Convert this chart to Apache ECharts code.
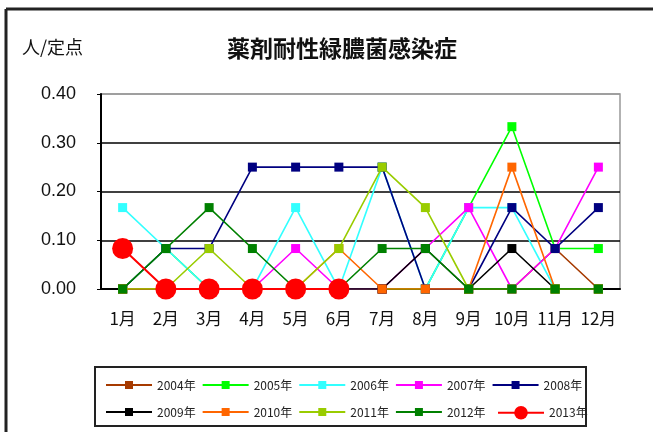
<!DOCTYPE html>
<html>
<head>
<meta charset="utf-8">
<script src="https://cdn.jsdelivr.net/npm/echarts@6/dist/echarts.min.js"></script>
<style>
html, body { margin: 0; padding: 0; background: #fff; }
#main { width: 653px; height: 432px; }
</style>
</head>
<body>
<div id="main"></div>
<script>
// 月別 定点当たり報告数
var months = ['1月','2月','3月','4月','5月','6月','7月','8月','9月','10月','11月','12月'];
var years = ['2004年','2005年','2006年','2007年','2008年','2009年','2010年','2011年','2012年','2013年'];
var yTicks = [0, 0.1, 0.2, 0.3, 0.4];

var y2004 = [0, 0, 0, 0, 0, 0, 0, 0, 0, 0, 0.083, 0];
var y2005 = [0, 0.083, 0, 0, 0, 0, 0, 0, 0.167, 0.333, 0.083, 0.083];
var y2006 = [0.167, 0.083, 0, 0, 0.167, 0, 0.25, 0, 0.167, 0.167, 0, 0];
var y2007 = [0, 0, 0, 0, 0.083, 0, 0, 0.083, 0.167, 0, 0.083, 0.25];
var y2008 = [0, 0.083, 0.083, 0.25, 0.25, 0.25, 0.25, 0, 0, 0.167, 0.083, 0.167];
var y2009 = [0, 0, 0, 0, 0, 0, 0, 0.083, 0, 0.083, 0, 0];
var y2010 = [0, 0, 0, 0, 0, 0.083, 0, 0, 0, 0.25, 0, 0];
var y2011 = [0, 0, 0.083, 0, 0, 0.083, 0.25, 0.167, 0, 0, 0, 0];
var y2012 = [0, 0.083, 0.167, 0.083, 0, 0, 0.083, 0.083, 0, 0, 0, 0];
var y2013 = [0.083, 0, 0, 0, 0, 0];

var allData = [y2004, y2005, y2006, y2007, y2008, y2009, y2010, y2011, y2012, y2013];
var colors = ['#a63a00', '#00ff00', '#33ffff', '#ff00ff', '#000080', '#000000', '#ff6600', '#99cc00', '#008000', '#ff0000'];

var chart = echarts.init(document.getElementById('main'));

var series = [];
for (var i = 0; i < years.length; i++) {
	var last = (i == years.length - 1);
	series.push({
		name: years[i],
		type: 'line',
		data: allData[i],
		symbol: last ? 'circle' : 'rect',
		symbolSize: last ? 21 : 9,
		lineStyle: { color: colors[i], width: last ? 2 : 1.6 },
		itemStyle: { color: colors[i] },
		animation: false,
		z: 2 + i
	});
}

var legendText = { fontFamily: 'Noto Sans CJK JP', fontSize: 12, color: '#222' };

var option = {
	backgroundColor: '#fff',
	animation: false,
	title: {
		text: '薬剤耐性緑膿菌感染症',
		left: 337,
		textAlign: 'center',
		top: 32,
		textStyle: { fontFamily: 'Noto Sans CJK JP', fontSize: 23, fontWeight: 'bold', color: '#111' }
	},
	graphic: [
		{ type: 'line', shape: { x1: 6, y1: 9, x2: 653, y2: 9 }, style: { stroke: '#222', lineWidth: 3 } },
		{ type: 'line', shape: { x1: 6, y1: 9, x2: 6, y2: 432 }, style: { stroke: '#222', lineWidth: 3 } },
		{ type: 'text', left: 22, top: 38, style: { text: '人/定点', font: '18px "Noto Sans CJK JP"', fill: '#111' } },
		{ type: 'rect', shape: { x: 95, y: 367, width: 491, height: 59 }, style: { fill: 'none', stroke: '#222', lineWidth: 2 } }
	],
	legend: [{
		data: years.slice(0, 5),
		left: 100, top: 374,
		itemWidth: 46, itemHeight: 10, itemGap: 6,
		textStyle: legendText
	}, {
		data: years.slice(5, 9),
		left: 100, top: 401,
		itemWidth: 46, itemHeight: 10, itemGap: 6,
		textStyle: legendText
	}, {
		data: years.slice(9),
		left: 492, top: 401,
		itemWidth: 46, itemHeight: 17,
		textStyle: legendText
	}],
	grid: { left: 101, right: 33, top: 94, bottom: 143, show: true, borderColor: '#999', borderWidth: 1.5 },
	xAxis: {
		type: 'category',
		data: months,
		boundaryGap: true,
		axisLine: { lineStyle: { color: '#000', width: 2 } },
		axisTick: { inside: true, length: 4, lineStyle: { color: '#000' } },
		axisLabel: { fontFamily: 'Noto Sans CJK JP', fontSize: 17, color: '#111', margin: 21, interval: 0 }
	},
	yAxis: {
		type: 'value',
		min: yTicks[0],
		max: yTicks[yTicks.length - 1],
		interval: 0.1,
		axisLine: { show: true, lineStyle: { color: '#000', width: 2 } },
		axisTick: { show: true, length: 4, lineStyle: { color: '#000' } },
		axisLabel: {
			fontFamily: 'Liberation Sans', fontSize: 18, color: '#111', margin: 25,
			formatter: function (v) { return v.toFixed(2); }
		},
		splitLine: { show: true, lineStyle: { color: ['#000', '#000', '#000', '#000', '#999'], width: 1.5 } }
	},
	series: series
};

chart.setOption(option);
</script>
</body>
</html>
